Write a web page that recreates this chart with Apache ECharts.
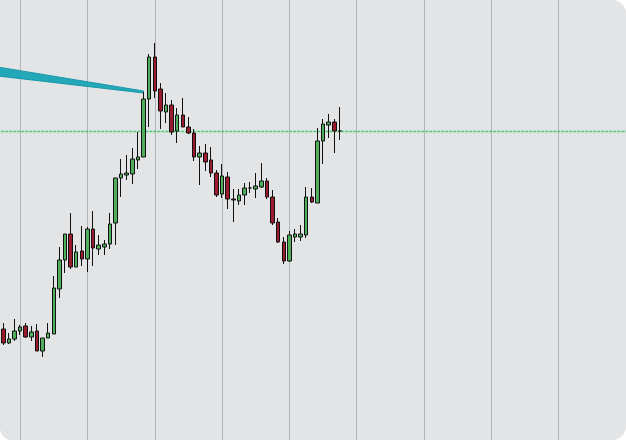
<!DOCTYPE html>
<html>
<head>
<meta charset="utf-8">
<script src="https://cdn.jsdelivr.net/npm/echarts@6/dist/echarts.min.js"></script>
<style>
html,body{margin:0;padding:0;background:#ffffff;}
#wrap{width:626px;height:440px;background:#e3e4e6;border-radius:0 14px 14px 12px;overflow:hidden;}
#chart{width:626px;height:440px;}
</style>
</head>
<body>
<div id="wrap"><div id="chart"></div></div>
<script>
// price units (arbitrary)
var opens  = [111,97,101,109,114,103,109,89,102,106,151,180,206,173,189,181,211,191,193,196,217,262,265,266,280,283,341,383,351,328,335,309,325,313,307,283,287,280,267,246,263,241,239,245,252,251,253,259,243,218,198,179,203,203,205,243,237,299,315,318,309];
var closes = [97,101,109,113,103,108,89,102,107,152,180,206,173,188,181,211,192,195,196,216,262,266,267,281,283,341,383,349,329,335,308,325,313,307,283,287,278,267,245,264,241,240,245,252,252,254,259,243,217,198,179,205,206,206,243,238,299,316,318,309,309];
var lows   = [95,96,99,105,102,99,89,83,102,106,142,167,171,173,174,168,174,185,185,191,195,243,260,256,271,283,313,342,311,317,305,297,313,306,279,255,269,263,243,242,231,218,235,235,247,242,252,241,215,197,176,178,198,199,202,237,237,276,302,287,300];
var highs  = [117,107,121,115,117,114,116,102,117,164,193,206,227,195,214,213,229,205,200,227,262,281,285,292,308,348,386,397,357,347,340,332,342,323,311,294,296,293,270,276,268,251,251,257,258,267,277,262,250,222,203,209,211,215,253,252,312,321,326,321,333];
var slotCount = 112;               // candle slots across the panel (incl. empty future slots)
var categories = Array.from({length: slotCount}, function(_, i){ return 'P' + i; });
var lastPrice = 308.5;             // dotted reference line
// teal wedge: slot index, upper edge, lower edge
var wedgeIdx = [-1, 25];
var wedgeTop = [373, 349];
var wedgeBot = [364, 347];

var candleData = opens.map(function(o, i){ return [o, closes[i], lows[i], highs[i]]; });

var chart = echarts.init(document.getElementById('chart'), null, {renderer:'canvas'});
chart.setOption({
  animation: false,
  backgroundColor: 'transparent',
  grid: {left: 3.3, right: -4.5, top: 0, bottom: 0, containLabel: false},
  xAxis: {
    type: 'category', data: categories, boundaryGap: false,
    axisLine: {show: false}, axisTick: {show: false}, axisLabel: {show: false},
    splitLine: {show: true, interval: function(idx){ return (idx - 3) % 12 === 0; },
      lineStyle: {color: '#b3b5b9', width: 1}}
  },
  yAxis: {
    type: 'value', min: 0, max: 440, scale: false,
    axisLine: {show: false}, axisTick: {show: false}, axisLabel: {show: false},
    splitLine: {show: false}
  },
  series: [
    {
      type: 'custom', clip: false, z: 3, silent: true,
      data: [[0, 0]],
      renderItem: function(params, api){
        var pts = [];
        for (var i = 0; i < wedgeIdx.length; i++) pts.push(api.coord([wedgeIdx[i], wedgeTop[i]]));
        for (var j = wedgeIdx.length - 1; j >= 0; j--) pts.push(api.coord([wedgeIdx[j], wedgeBot[j]]));
        var a = api.coord([-1, lastPrice]);
        var b = api.coord([slotCount - 1, lastPrice]);
        return {type: 'group', children: [
          {type: 'line', shape: {x1: a[0], y1: a[1], x2: b[0], y2: b[1]},
            style: {stroke: 'rgba(60,200,100,0.18)', fill: null, lineWidth: 3}},
          {type: 'line', shape: {x1: a[0], y1: a[1], x2: b[0], y2: b[1]},
            style: {stroke: '#22c24b', fill: null, lineWidth: 1, lineDash: [2, 2]}},
          {type: 'polygon', shape: {points: pts},
            style: {fill: '#22a8b9', stroke: '#1797a9', lineWidth: 1}}
        ]};
      }
    },
    {
      type: 'candlestick', z: 4,
      data: candleData,
      barWidth: 4,
      itemStyle: {color: '#4fae5a', color0: '#9b1b2e', borderColor: '#111111', borderColor0: '#111111', borderWidth: 1}
    }
  ]
});
</script>
</body>
</html>
